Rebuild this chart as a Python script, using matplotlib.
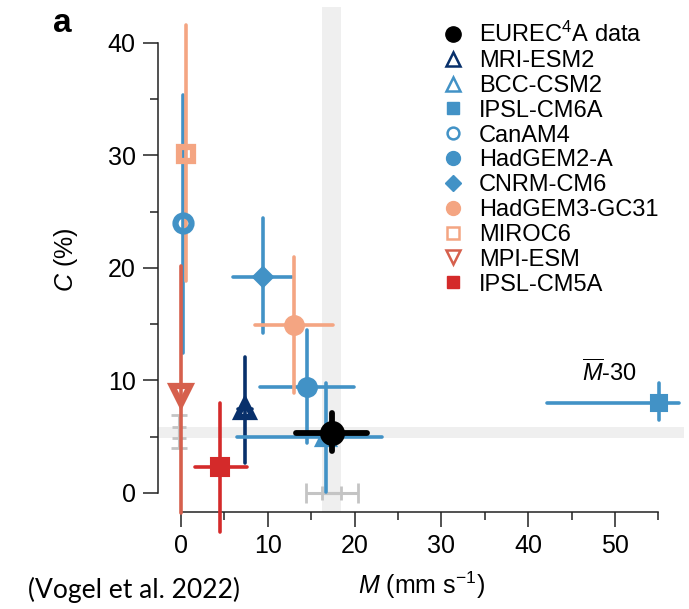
import matplotlib
matplotlib.use("Agg")
import matplotlib.pyplot as plt
from matplotlib.lines import Line2D

plt.rcParams["font.family"] = ["Liberation Sans", "DejaVu Sans"]
plt.rcParams["mathtext.fontset"] = "custom"
plt.rcParams["mathtext.rm"] = "Liberation Sans"
plt.rcParams["mathtext.it"] = "Liberation Sans:italic"
plt.rcParams["mathtext.bf"] = "Liberation Sans:bold"

# Data: M (mm s-1) and C (%) with ranges
names = ["EUREC$^4$A data", "MRI-ESM2", "BCC-CSM2", "IPSL-CM6A", "CanAM4",
         "HadGEM2-A", "CNRM-CM6", "HadGEM3-GC31", "MIROC6", "MPI-ESM",
         "IPSL-CM5A"]
m_mid = [17.4, 7.4, 16.7, 55.1, 0.25, 14.5, 9.5, 13.0, 0.6, 0.05, 4.5]
m_low = [13.3, 6.6, 6.5, 42.2, 0.25, 9.1, 6.0, 8.5, 0.6, 0.05, 1.6]
m_high = [21.4, 8.2, 23.2, 57.4, 0.25, 19.9, 12.8, 17.5, 0.6, 0.05, 7.6]
c_mid = [5.3, 7.5, 5.0, 8.0, 24.0, 9.4, 19.2, 14.9, 30.1, 8.7, 2.3]
c_low = [3.7, 2.7, 0.1, 6.5, 12.4, 4.4, 14.2, 8.9, 18.8, -1.8, -3.5]
c_high = [7.1, 12.1, 9.8, 9.8, 35.4, 14.5, 24.4, 21.0, 41.6, 20.2, 8.0]

# observational spread shown on the margins
obs_m_outer = [14.4, 20.4]
obs_m_inner = [16.3, 18.4]
obs_c_outer = [4.0, 6.9]
obs_c_inner = [4.9, 5.9]

# styles
markers = ["o", "^", "^", "s", "o", "o", "D", "o", "s", "v", "s"]
colors = ["black", "#08306b", "#4292c6", "#4292c6", "#4292c6", "#4292c6",
          "#4292c6", "#f4a582", "#f4a582", "#d6604d", "#d42a2a"]
filled = [True, False, False, True, False, True, True, True, False, False, True]
msizes = [16.5, 12, 10, 11, 11.5, 13.5, 10, 13.5, 10.5, 12.5, 12.5]
leg_sizes = [11, 10, 10, 8.5, 8.5, 10, 8, 10, 8.5, 10, 8.5]

fig = plt.figure(figsize=(6.89, 6.09), dpi=100)
ax = fig.add_axes([158 / 689, 97 / 609, 526 / 689, 505 / 609])
ax.set_xlim(-2.65, 57.95)
ax.set_ylim(-1.69, 43.2)

band = "#efefef"
ax.axvspan(obs_m_inner[0], obs_m_inner[1], color=band, zorder=0, lw=0)
ax.axhspan(obs_c_inner[0], obs_c_inner[1], color=band, zorder=0, lw=0)

gray = "#c4c4c4"
c_obs = c_mid[0]
m_obs = m_mid[0]
for lo, hi, cs in [(obs_c_outer[0], obs_c_outer[1], 6), (obs_c_inner[0], obs_c_inner[1], 5)]:
    ax.errorbar([-0.25], [c_obs], yerr=[[c_obs - lo], [hi - c_obs]], fmt="none",
                ecolor=gray, elinewidth=2.2, capsize=cs, capthick=2, zorder=1,
                clip_on=False)
for lo, hi, cs in [(obs_m_outer[0], obs_m_outer[1], 7), (obs_m_inner[0], obs_m_inner[1], 5)]:
    ax.errorbar([m_obs], [0], xerr=[[m_obs - lo], [hi - m_obs]], fmt="none",
                ecolor=gray, elinewidth=2.2, capsize=cs, capthick=2, zorder=1,
                clip_on=False)

order = list(range(1, len(names))) + [0]
for i in order:
    lw = 4.2 if i == 0 else 2.6
    z = 10 if i == 0 else 3
    eb = ax.errorbar([m_mid[i]], [c_mid[i]],
                     xerr=[[m_mid[i] - m_low[i]], [m_high[i] - m_mid[i]]],
                     yerr=[[c_mid[i] - c_low[i]], [c_high[i] - c_mid[i]]],
                     fmt=markers[i], color=colors[i], ecolor=colors[i],
                     elinewidth=lw, capsize=0, ms=msizes[i],
                     mfc=colors[i] if filled[i] else "none",
                     mec=colors[i], mew=1.5 if filled[i] else 4.5,
                     zorder=z, clip_on=False)
    for coll in eb[2]:
        coll.set_capstyle("round")

ax.text(49.4, 10.7, r"$\overline{M}$-30", ha="center", va="center", fontsize=17)

# axes styling
for s in ["top", "right"]:
    ax.spines[s].set_visible(False)
ax.spines["left"].set_bounds(0, 40)
ax.spines["bottom"].set_bounds(0, 55)
for s in ["left", "bottom"]:
    ax.spines[s].set_linewidth(1.1)
    ax.spines[s].set_color("#222222")
ax.set_xticks(range(0, 60, 10))
ax.set_xticks(range(5, 60, 10), minor=True)
ax.set_yticks(range(0, 50, 10))
ax.set_yticks(range(5, 40, 10), minor=True)
ax.tick_params(which="major", length=11, width=1.1, color="#222222",
               labelsize=18, pad=5)
ax.tick_params(which="minor", length=6, width=1.1, color="#222222")
ax.set_xlabel(r"$\it{M}$ (mm s$^{-1}$)", fontsize=18, labelpad=8)
ax.set_ylabel(r"$\it{C}$ (%)", fontsize=18, labelpad=20)

handles = []
for i in range(len(names)):
    handles.append(Line2D([], [], ls="none", marker=markers[i], color=colors[i],
                          ms=leg_sizes[i],
                          mfc=colors[i] if filled[i] else "none",
                          mec=colors[i], mew=1 if filled[i] else 1.8))
fig.legend(handles, names, loc="upper left", bbox_to_anchor=(441 / 689, 1 - 22 / 609),
           frameon=False, fontsize=17, handlelength=1.0, handletextpad=0.6,
           labelspacing=0.12, borderpad=0, borderaxespad=0)

fig.text(53 / 689, 1 - 23 / 609, "a", fontsize=24, fontweight="bold", va="center")
fig.text(28 / 689, 19 / 609, "(Vogel et al. 2022)", fontsize=19,
         family=["Lato", "DejaVu Sans"], va="center")

fig.savefig("out.png", dpi=100)
